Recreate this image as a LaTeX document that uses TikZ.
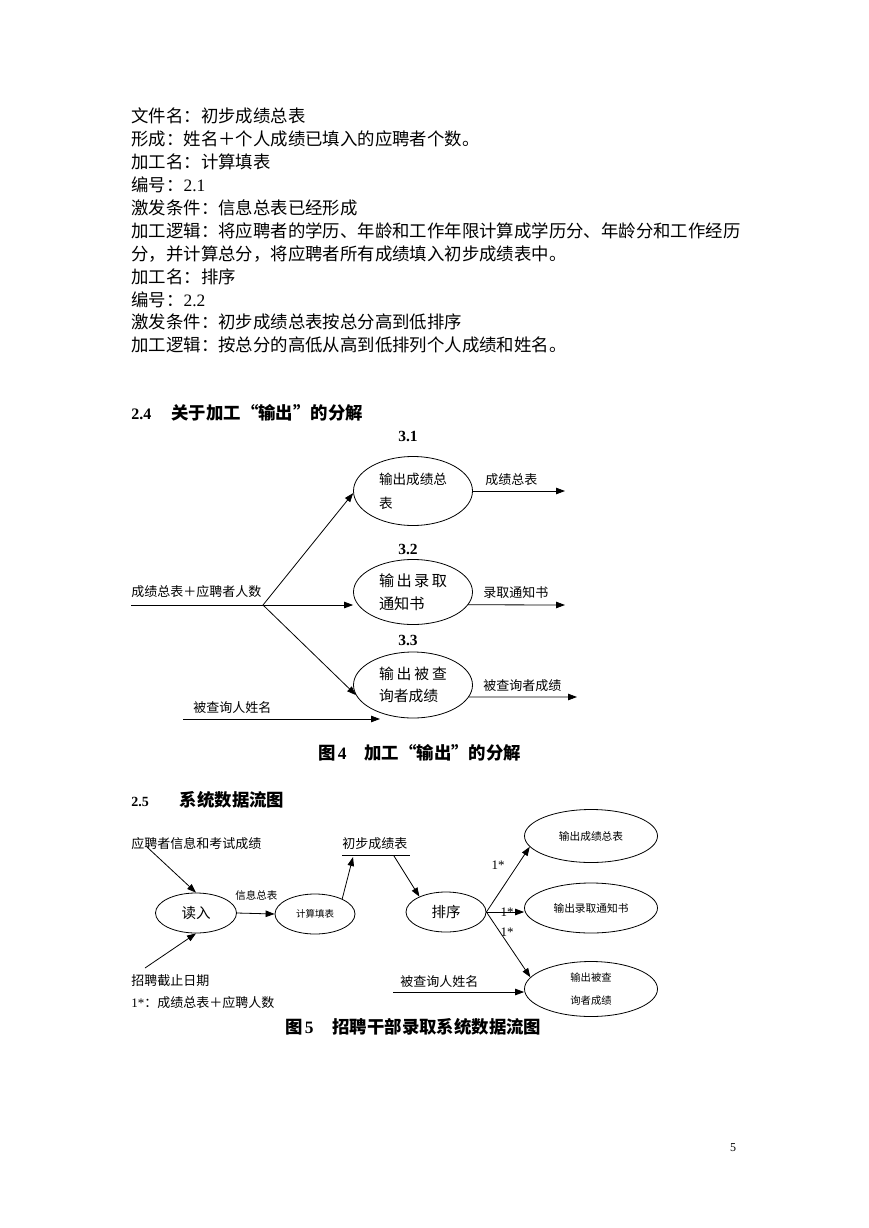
\documentclass[tikz,border=0pt]{standalone}
\usepackage{fontspec}
\setmainfont{Noto Sans CJK SC}
\newfontfamily\lat{Liberation Serif}
\usetikzlibrary{
  arrows.meta,
  positioning,
  calc,
  shapes.geometric
}

\begin{document}
\begin{tikzpicture}[
      x=1pt, y=-1pt,
      >={Triangle[length=9pt,width=6.5pt]},
      line width=0.8pt,
      body/.style={anchor=west, inner sep=0pt, font=\fontsize{17.4}{23}\selectfont},
      head/.style={anchor=west, inner sep=0pt, font=\bfseries\fontsize{17.4}{20}\selectfont},
      numlbl/.style={inner sep=0pt, font=\lat\bfseries\fontsize{15.5}{16}\selectfont},
      lbl/.style={anchor=west, inner sep=0pt, font=\fontsize{13}{15}\selectfont},
      mult/.style={inner sep=0pt, font=\lat\fontsize{13}{14}\selectfont},
      proc/.style={draw, ellipse, inner sep=0pt, align=left}
  ]
      \path[fill=white] (0,0) rectangle (869,1228);
      \useasboundingbox (0,0) rectangle (869,1228);

      % Texto
      \node[body] (t1) at (131,116) {文件名：初步成绩总表};
      \node[body] (t2) at (131,139) {形成：姓名＋个人成绩已填入的应聘者个数。};
      \node[body] (t3) at (131,162) {加工名：计算填表};
      \node[body] (t4) at (131,185) {编号：{\lat 2.1}};
      \node[body] (t5) at (131,208) {激发条件：信息总表已经形成};
      \node[body] (t6) at (131,231) {加工逻辑：将应聘者的学历、年龄和工作年限计算成学历分、年龄分和工作经历};
      \node[body] (t7) at (131,254) {分，并计算总分，将应聘者所有成绩填入初步成绩表中。};
      \node[body] (t8) at (131,277) {加工名：排序};
      \node[body] (t9) at (131,300) {编号：{\lat 2.2}};
      \node[body] (t10) at (131,322) {激发条件：初步成绩总表按总分高到低排序};
      \node[body] (t11) at (131,345) {加工逻辑：按总分的高低从高到低排列个人成绩和姓名。};

      % Decomposição de "输出"
      \node[head] (hd24) at (131,413) {{\lat\fontsize{16}{16}\selectfont 2.4}\hspace{20pt}关于加工“输出”的分解};

      \node[numlbl] (n31) at (408,436) {3.1};
      \node[proc, minimum width=119pt, minimum height=69pt,
            font=\fontsize{13.6}{24}\selectfont] (p31) at (413,491) {输出成绩总\\表};
      \node[numlbl] (n32) at (408,549) {3.2};
      \node[proc, minimum width=119pt, minimum height=65pt,
            font=\fontsize{15.2}{23}\selectfont] (p32) at (413,592)
            {\makebox[68pt][s]{输\hfil 出\hfil 录\hfil 取}\\通知书};
      \node[numlbl] (n33) at (408,640) {3.3};
      \node[proc, minimum width=119pt, minimum height=66pt,
            font=\fontsize{14.8}{22}\selectfont] (p33) at (413,685)
            {\makebox[68pt][s]{输\hfil 出\hfil 被\hfil 查}\\询者成绩};

      \coordinate (in1) at (131,605);
      \coordinate (br1) at (263,605);
      \node[lbl] (l_in1) at (131,592) {成绩总表＋应聘者人数};
      \draw (in1) -- (br1);
      \draw[->] (br1) -- (p31.182);
      \draw[->] (br1) -- (br1 -| p32.west);
      \draw[->] (br1) -- (p33.190);

      \coordinate (o31) at (565,491);
      \coordinate (o32) at (565,605);
      \coordinate (o33) at (577,697);
      \draw[->] (p31.east) -- (o31);
      \draw[->] (p32.-13) -- (o32);
      \draw[->] (p33.-12) -- (o33);
      \node[lbl] (l_o31) at (485,480) {成绩总表};
      \node[lbl] (l_o32) at (483,593) {录取通知书};
      \node[lbl] (l_o33) at (483,686) {被查询者成绩};

      \coordinate (q1) at (183,719);
      \coordinate (q2) at (380,719);
      \draw[->] (q1) -- (q2);
      \node[lbl] (l_q1) at (193,708) {被查询人姓名};

      \node[head] (cap4) at (318,753) {图\hspace{2pt}{\lat 4}\hspace{18pt}加工“输出”的分解};

      % Fluxo de dados do sistema
      \node[head] (hd25) at (131,800) {{\lat\fontsize{14}{14}\selectfont 2.5}\hspace{31pt}系统数据流图};

      \node[proc, minimum width=81pt, minimum height=40pt,
            font=\fontsize{14.5}{16}\selectfont] (rd) at (196,913) {读入};
      \node[proc, minimum width=80pt, minimum height=40pt,
            font=\fontsize{9.5}{11}\selectfont] (cal) at (315,914) {计算填表};
      \node[proc, minimum width=80pt, minimum height=40pt,
            font=\fontsize{14.5}{16}\selectfont] (srt) at (446,912) {排序};
      \node[proc, minimum width=133pt, minimum height=53pt,
            font=\fontsize{10.7}{12}\selectfont] (out1) at (591,836) {输出成绩总表};
      \node[proc, minimum width=133pt, minimum height=50pt,
            font=\fontsize{10.7}{12}\selectfont] (out2) at (591,908) {输出录取通知书};
      \node[proc, minimum width=133pt, minimum height=55pt, align=center,
            font=\fontsize{10.3}{23}\selectfont] (out3) at (591,989) {输出被查\\询者成绩};

      \node[lbl] (l_app) at (131,844) {应聘者信息和考试成绩};
      \node[lbl] (l_dl) at (131,981) {招聘截止日期};
      \coordinate (a1) at (147,847);
      \coordinate (a2) at (145,968);
      \draw[->] (a1) -- (rd.north);
      \draw[->] (a2) -- (rd.south);

      \draw[->] (rd.east) -- (cal.west);
      \node[lbl, font=\fontsize{10.5}{12}\selectfont] (l_info) at (235,895) {信息总表};

      \node[lbl] (st) at (342,844) {初步成绩表};
      \draw ($(st.west)+(0,11)$) -- ($(st.east)+(2,11)$);
      \coordinate (stin) at (353,857);
      \coordinate (stout) at (394,856);
      \draw[->] (cal.29) -- (stin);
      \draw[->] (stout) -- (srt.150);

      \draw[->] (srt.east) -- (out1.190);
      \draw[->] (srt.east) -- (out2.west |- srt.east);
      \draw[->] (srt.east) -- (out3.169);
      \node[mult] (m1) at (498,865) {1*};
      \node[mult] (m2) at (507,912) {1*};
      \node[mult] (m3) at (507,932) {1*};

      \node[lbl] (l_q2) at (400,982) {被查询人姓名};
      \coordinate (q3) at (393,992);
      \draw[->] (q3) -- (q3 -| out3.west);

      \node[lbl] (l_note) at (131,1003) {{\lat 1*}：成绩总表＋应聘人数};

      \node[head] (cap5) at (285,1027) {图\hspace{2pt}{\lat 5}\hspace{19pt}招聘干部录取系统数据流图};

      \node[inner sep=0pt, font=\lat\fontsize{12}{14}\selectfont] (pg) at (733,1148) {5};
  \end{tikzpicture}
\end{document}
